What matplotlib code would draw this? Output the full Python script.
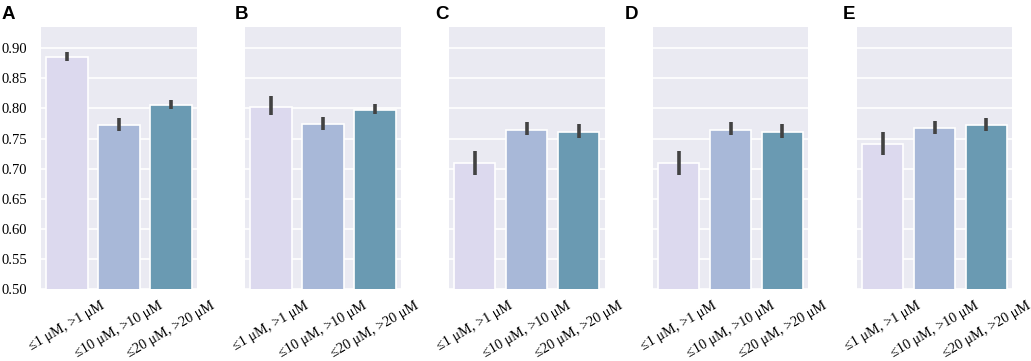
import matplotlib
matplotlib.use("Agg")
import matplotlib.pyplot as plt
import numpy as np

categories = ["≤1 μM, >1 μM", "≤10 μM, >10 μM", "≤20 μM, >20 μM"]
panels = ["A", "B", "C", "D", "E"]
means = {
    "A": [0.885, 0.772, 0.806],
    "B": [0.803, 0.774, 0.798],
    "C": [0.709, 0.765, 0.761],
    "D": [0.709, 0.765, 0.761],
    "E": [0.741, 0.767, 0.773],
}
err_low = {
    "A": [0.878, 0.763, 0.799],
    "B": [0.789, 0.764, 0.791],
    "C": [0.689, 0.756, 0.751],
    "D": [0.689, 0.756, 0.751],
    "E": [0.723, 0.758, 0.763],
}
err_high = {
    "A": [0.893, 0.784, 0.814],
    "B": [0.821, 0.786, 0.808],
    "C": [0.730, 0.777, 0.774],
    "D": [0.729, 0.777, 0.774],
    "E": [0.761, 0.779, 0.784],
}
yticks = [0.50, 0.55, 0.60, 0.65, 0.70, 0.75, 0.80, 0.85, 0.90]
colors = ["#dcd9ee", "#a8b8d8", "#6a9ab2"]

W, H = 1031, 361
fig = plt.figure(figsize=(W / 100, H / 100), dpi=100)

ax_lefts = [41, 245, 448.5, 652.5, 856.5]
ax_w = 156
ax_top, ax_bot = 27, 289.3
letter_x = [2, 235, 435, 625, 843]

for i, p in enumerate(panels):
    ax = fig.add_axes([ax_lefts[i] / W, 1 - ax_bot / H, ax_w / W, (ax_bot - ax_top) / H])
    ax.set_facecolor("#eaeaf2")
    for s in ax.spines.values():
        s.set_visible(False)
    ax.set_axisbelow(True)
    ax.grid(axis="y", color="white", linewidth=1.2)
    x = np.arange(len(categories))
    ax.bar(x, means[p], width=0.8, bottom=0, color=colors, edgecolor="white", linewidth=1.2)
    for xi, lo, hi in zip(x, err_low[p], err_high[p]):
        ax.plot([xi, xi], [lo, hi], color="#424242", linewidth=2.6, solid_capstyle="butt", zorder=5)
    ax.set_xlim(-0.5, 2.5)
    ax.set_ylim(0.5, 0.935)
    ax.set_yticks(yticks)
    ax.set_xticks(x)
    ax.set_xticklabels(categories, rotation=30, ha="center",
                       fontfamily="Liberation Serif", fontsize=10.3)
    ax.tick_params(axis="x", length=0, pad=7)
    ax.tick_params(axis="y", length=0)
    if i == 0:
        ax.set_yticklabels([f"{v:.2f}" for v in yticks], fontfamily="Liberation Serif", fontsize=10.5)
        ax.tick_params(axis="y", pad=10)
    else:
        ax.set_yticklabels([])
    fig.text(letter_x[i] / W, 1 - 6 / H, p, fontfamily="Liberation Sans", fontweight="bold",
             fontsize=13.5, va="top", ha="left")

fig.savefig("out.png", dpi=100)
